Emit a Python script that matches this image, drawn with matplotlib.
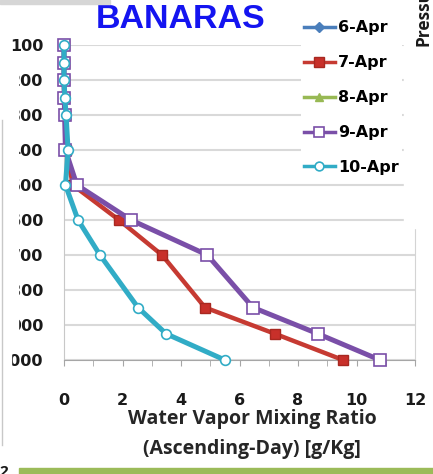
import matplotlib
matplotlib.use("Agg")
import matplotlib.pyplot as plt
from matplotlib.lines import Line2D
from matplotlib.patches import Rectangle

W, H = 433, 474

# pressure levels (hPa) and mixing ratio (g/kg) per day
levels = [100, 150, 200, 250, 300, 400, 500, 600, 700, 850, 925, 1000]
apr6 = []
apr7 = [0.0, 0.0, 0.0, 0.01, 0.03, 0.08, 0.30, 1.88, 3.35, 4.82, 7.21, 9.54]
apr8 = []
apr9 = [0.0, 0.0, 0.0, 0.01, 0.02, 0.05, 0.44, 2.29, 4.90, 6.46, 8.68, 10.80]
apr10 = [0.0, 0.0, 0.0, 0.03, 0.07, 0.14, 0.05, 0.48, 1.23, 2.53, 3.49, 5.50]

labels = ["6-Apr", "7-Apr", "8-Apr", "9-Apr", "10-Apr"]
yticks = [100, 200, 300, 400, 500, 600, 700, 800, 900, 1000]
xticks = [0, 2, 4, 6, 8, 10, 12]

plt.rcParams['font.family'] = ['Open Sans', 'DejaVu Sans']


def fx(px):
    return px / W


def fy(py):
    return 1 - py / H


fig = plt.figure(figsize=(W / 100, H / 100), dpi=100)
ax = fig.add_axes([fx(64), fy(360), (415 - 64) / W, (360 - 45) / H])

styles = [
    dict(color='#4a7ebb', marker='D', mfc='#4a7ebb', mec='#4a7ebb', ms=6, lw=3.2),
    dict(color='#c63a32', marker='s', mfc='#c8302a', mec='#a82820', ms=7.5, lw=3.2),
    dict(color='#98b954', marker='^', mfc='#98b954', mec='#98b954', ms=7, lw=3.2),
    dict(color='#7a4fa8', marker='s', mfc='white', mec='#7a4fa8', ms=8, lw=3.6, mew=1.2),
    dict(color='#31acc6', marker='o', mfc='white', mec='#31acc6', ms=7, lw=3.6, mew=1.2),
]
series = [apr6, apr7, apr8, apr9, apr10]

handles = []
for vals, st, lab in zip(series, styles, labels):
    if vals:
        ax.plot(vals, levels, clip_on=False, zorder=3, **st)
    handles.append(Line2D([], [], label=lab, **{**st, 'lw': 2.5, 'ms': st['ms'] * 0.9}))

ax.set_xlim(0, 12)
ax.set_ylim(1000, 100)
ax.set_yticks(yticks)
ax.set_xticks(xticks)
ax.set_xticks(range(1, 12, 2), minor=True)
ax.grid(axis='y', color='#d9d9d9', lw=1.5)
ax.set_axisbelow(True)

ax.spines['top'].set_visible(False)
ax.spines['left'].set_color('#c8c8c8')
ax.spines['bottom'].set_color('#a6a6a6')
ax.spines['right'].set_color('#d4d4d4')
ax.tick_params(axis='both', labelsize=11.5, labelcolor='#1a1a1a',
               labelfontfamily='DejaVu Sans')
ax.tick_params(axis='y', length=0, pad=15)
ax.tick_params(axis='x', which='both', length=4, color='#a6a6a6', direction='out')
ax.tick_params(axis='x', pad=20)
for t in ax.get_xticklabels() + ax.get_yticklabels():
    t.set_fontweight('bold')

leg = ax.legend(handles=handles, loc='upper left', bbox_to_anchor=(fx(301), fy(17)),
                bbox_transform=fig.transFigure, frameon=True, fancybox=False,
                facecolor='white', edgecolor='none', framealpha=1,
                prop=dict(weight='bold', size=11.5, family='DejaVu Sans'),
                handlelength=1.9, handletextpad=0.2, labelspacing=1.25,
                borderpad=0.2, borderaxespad=0)
leg.set_zorder(6)

fig.text(fx(181), fy(19), "BANARAS", color='#1414f0', fontsize=24.5,
         fontweight='bold', family=['Liberation Sans', 'DejaVu Sans'],
         ha='center', va='center')

fig.text(fx(252), fy(434), "Water Vapor Mixing Ratio\n(Ascending-Day) [g/Kg]",
         ha='center', va='center', fontsize=14, fontweight='bold',
         color='#262626', linespacing=1.65)

# neighbouring panel cut off on the right
fig.patches.append(Rectangle((fx(404), fy(228)), 1 - fx(404), 228 / H,
                             transform=fig.transFigure, color='white', zorder=10))
fig.text(fx(424), fy(46), "Pressure", rotation=90, ha='center', va='bottom',
         fontsize=12.5, fontweight='bold', color='#1a1a1a', zorder=11)

# cropped left edge of the image
fig.patches.append(Rectangle((0, fy(350)), fx(18), (350 - 56) / H,
                             transform=fig.transFigure, color='white', zorder=10))
fig.patches.append(Rectangle((0, fy(372)), fx(11), 22 / H,
                             transform=fig.transFigure, color='white', zorder=10))
fig.add_artist(Line2D([fx(2), fx(2)], [fy(120), fy(445)], color='#c8c8c8', lw=1, zorder=11))

# top shadow and bottom strip from the page
fig.patches.append(Rectangle((0, fy(4)), fx(110), 4 / H, transform=fig.transFigure,
                             color='#d6d6d6', zorder=10))
fig.patches.append(Rectangle((fx(19), 0), 1 - fx(19), 6 / H, transform=fig.transFigure,
                             color='#9bbb59', zorder=10))
fig.text(fx(4), fy(465), "2", ha='center', va='top', fontsize=11, fontweight='bold',
         color='#1a1a1a', zorder=11)

fig.savefig("out.png", dpi=100)
